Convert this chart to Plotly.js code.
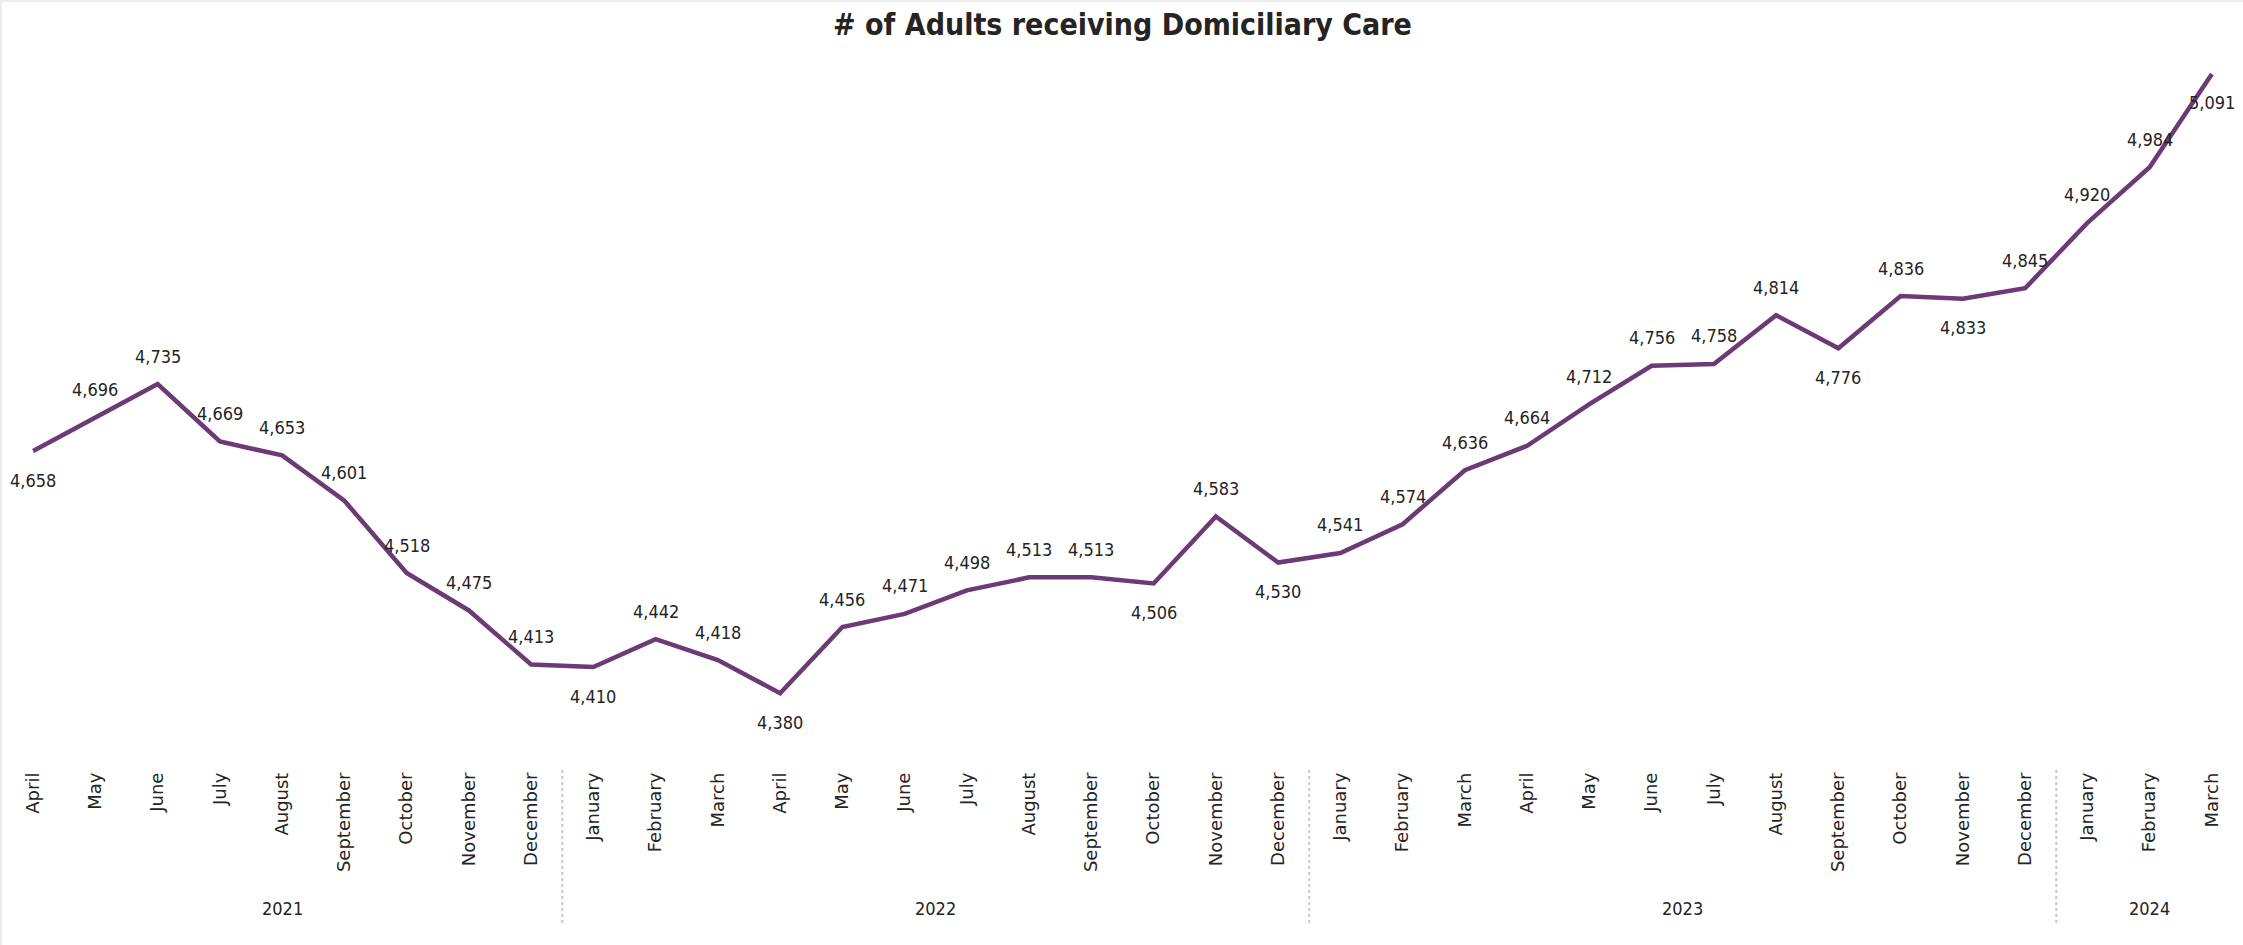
<!DOCTYPE html>
<html>
<head>
<meta charset="utf-8">
<script src="https://cdn.plot.ly/plotly-3.0.1.min.js"></script>
<style>html,body{margin:0;padding:0;background:#fff;}#chart{width:2243px;height:945px;}</style>
</head>
<body>
<div id="chart"></div>
<script>
// ---- data ----
const months = [
  "April","May","June","July","August","September","October","November","December",
  "January","February","March","April","May","June","July","August","September","October","November","December",
  "January","February","March","April","May","June","July","August","September","October","November","December",
  "January","February","March"
];
const years = [
  2021,2021,2021,2021,2021,2021,2021,2021,2021,
  2022,2022,2022,2022,2022,2022,2022,2022,2022,2022,2022,2022,
  2023,2023,2023,2023,2023,2023,2023,2023,2023,2023,2023,2023,
  2024,2024,2024
];
const adults = [
  4658,4696,4735,4669,4653,4601,4518,4475,4413,
  4410,4442,4418,4380,4456,4471,4498,4513,4513,4506,4583,4530,
  4541,4574,4636,4664,4712,4756,4758,4814,4776,4836,4833,4845,
  4920,4984,5091
];
// indices whose data label sits below the line
const labelBelow = [0,9,12,18,20,29,31,35];

// ---- derived ----
const idx = months.map((m,i)=>i);
const yearList = [...new Set(years)];
const fontLbl = "DejaVu Sans Condensed, DejaVu Sans, sans-serif";
const txtColor = "#252423";

// plot area: top 50, bottom 768
const T=50, B=768, H=945;
const plotH = B-T;
const py = p => (B - p)/plotH;

const annotations = adults.map((v,i)=>{
  const below = labelBelow.includes(i);
  return {
    x: i, y: v, xref:'x', yref:'y',
    text: v.toLocaleString('en-US'),
    showarrow:false, xanchor:'center', yanchor:'middle',
    yshift: below ? -29 : 28,
    font:{family:fontLbl, size:18, color:txtColor}
  };
});
yearList.forEach(yr=>{
  const ii = idx.filter(i=>years[i]===yr);
  const c = (ii[0]+ii[ii.length-1])/2;
  annotations.push({
    x:c, xref:'x', y:py(908), yref:'paper',
    text:String(yr), showarrow:false, xanchor:'center', yanchor:'middle',
    font:{family:fontLbl, size:18, color:txtColor}
  });
});

const shapes = [];
yearList.slice(1).forEach(yr=>{
  const first = years.indexOf(yr);
  shapes.push({
    type:'line', xref:'x', yref:'paper',
    x0:first-0.5, x1:first-0.5, y0:py(770), y1:py(924),
    line:{color:'#c8c8c8', width:2, dash:'dot'}
  });
});
// faint outer border
shapes.push({type:'line', xref:'paper', yref:'paper', x0:-2/2241, x1:1, y0:py(1), y1:py(1), line:{color:'#ececec', width:2}});
shapes.push({type:'line', xref:'paper', yref:'paper', x0:-2/2241+0.0004, x1:-2/2241+0.0004, y0:py(1), y1:py(945), line:{color:'#ececec', width:2}});

const trace = {
  x: idx, y: adults, type:'scatter', mode:'lines',
  line:{color:'#6c3a74', width:4.5},
  hoverinfo:'skip'
};

const layout = {
  width:2243, height:945,
  margin:{l:2, r:0, t:T, b:H-B, pad:0},
  paper_bgcolor:'#ffffff', plot_bgcolor:'#ffffff',
  showlegend:false,
  title:{text:'# of Adults receiving Domiciliary Care', x:0.5, xanchor:'center', xref:'paper',
         y:1-24/945, yanchor:'middle', yref:'container',
         font:{family:"DejaVu Sans Condensed, DejaVu Sans, sans-serif", size:30, weight:'bold', color:txtColor}},
  xaxis:{
    range:[-0.5, months.length-0.5], tickmode:'array', tickvals:idx, ticktext:months,
    tickangle:-90, showgrid:false, zeroline:false, showline:false, ticks:'',
    tickfont:{family:"DejaVu Sans, sans-serif", size:18, color:txtColor},
    fixedrange:true
  },
  yaxis:{
    range:[4294.1, 5118.5], visible:false, showgrid:false, zeroline:false, fixedrange:true
  },
  annotations: annotations,
  shapes: shapes
};

Plotly.newPlot('chart',[trace],layout,{displayModeBar:false, staticPlot:true});
</script>
</body>
</html>
